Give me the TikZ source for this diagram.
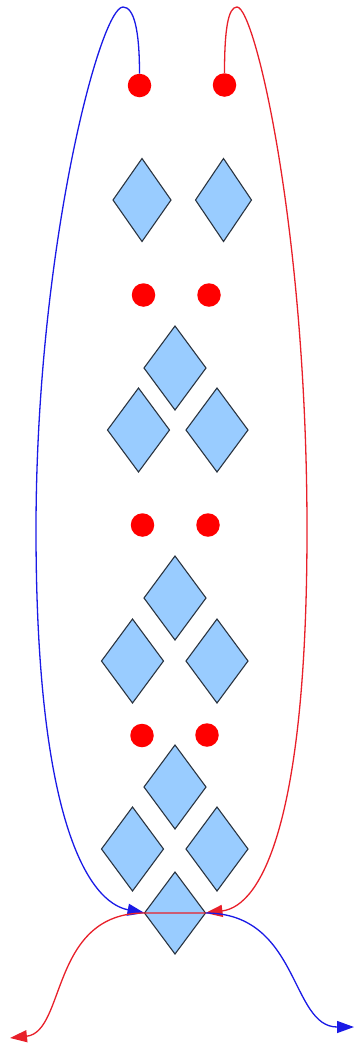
\documentclass[tikz,border=0pt]{standalone}
\usetikzlibrary{shapes.geometric,arrows.meta}
\definecolor{dfill}{HTML}{99CCFF}
\definecolor{dline}{HTML}{2A3440}
\definecolor{cblue}{HTML}{1A1AE6}
\definecolor{cred}{HTML}{E8202A}
\tikzset{
  dia/.style={diamond,draw=dline,fill=dfill,line width=1.1pt,inner sep=0pt,outer sep=0pt,minimum width=62pt,minimum height=84pt},
  dot/.style={circle,fill=red,inner sep=0pt,minimum size=23.5pt},
  bluecon/.style={draw=cblue,line width=1.3pt,-{Triangle[length=17pt,width=12pt]}},
  redcon/.style={draw=cred,line width=1.3pt,-{Triangle[length=17pt,width=12pt]}},
}
\begin{document}
\begin{tikzpicture}[x=1pt,y=-1pt]
\useasboundingbox (0,0) rectangle (356,1045);
% dots
\node[dot] (d1l) at (139.5,85.5) {};
\node[dot] (d1r) at (224.5,85) {};
\node[dot] (d2l) at (143.5,295) {};
\node[dot] (d2r) at (209,295) {};
\node[dot] (d3l) at (142.5,525) {};
\node[dot] (d3r) at (208,525) {};
\node[dot] (d4l) at (142,735.5) {};
\node[dot] (d4r) at (207,735) {};
% diamonds
\node[dia,minimum width=58pt,minimum height=83pt] (a1) at (142,200) {};
\node[dia,minimum width=56pt,minimum height=83pt] (a2) at (223.5,200) {};
\node[dia] (b1) at (175,368) {};
\node[dia] (b2) at (138.5,430) {};
\node[dia] (b3) at (217,430) {};
\node[dia] (c1) at (175,598) {};
\node[dia] (c2) at (132.5,661) {};
\node[dia] (c3) at (217,661) {};
\node[dia] (e1) at (175,787) {};
\node[dia] (e2) at (132.5,849) {};
\node[dia] (e3) at (217,849) {};
\node[dia,minimum width=61pt,minimum height=82pt] (bot) at (175,913) {};
% free ends
\coordinate (outl) at (10,1038);
\coordinate (outr) at (354,1027);
% connectors
\draw[bluecon] (d1l.north) .. controls (139.5,30) and (134,7) .. (123,7)
  .. controls (100,7) and (36,250) .. (36,530)
  .. controls (36,820) and (88,902) .. (bot.west);
\draw[redcon] (d1r.north) .. controls (224.5,30) and (228,7) .. (237,7)
  .. controls (255,7) and (307,230) .. (307,530)
  .. controls (307,820) and (262,906) .. (bot.east);
\draw[bluecon] (bot.east) .. controls (300,913) and (290,1027) .. (outr);
\draw[redcon] (bot.east) -- (bot.west) .. controls (50,913) and (66,1032) .. (outl);
\end{tikzpicture}
\end{document}
